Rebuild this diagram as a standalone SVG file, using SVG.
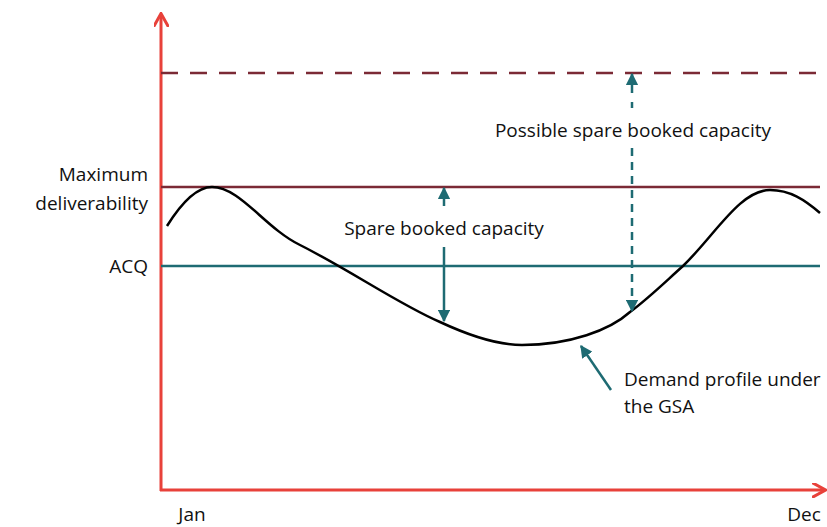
<svg xmlns="http://www.w3.org/2000/svg" width="827" height="527" viewBox="0 0 827 527">
<style>
text{font-family:"Open Sans","Liberation Sans",sans-serif;font-size:19px;fill:#111}
.axis{stroke:#e8413a;stroke-width:3;fill:none}
.teal{stroke:#1e6b73;stroke-width:2.5;fill:none}
.red{stroke:#7b2a35;stroke-width:2.5;fill:none}
</style>
<defs>
<marker id="ah" viewBox="0 0 10 10" refX="9" refY="5" markerWidth="5" markerHeight="5" orient="auto" markerUnits="strokeWidth">
<path d="M0,0 L10,5 L0,10 z" fill="#1e6b73"/>
</marker>
<marker id="axh" viewBox="0 0 10 10" refX="8" refY="5" markerWidth="5" markerHeight="5" orient="auto" markerUnits="strokeWidth">
<path d="M0,0 L9,5 L0,10" fill="none" stroke="#e8413a" stroke-width="2"/>
</marker>
</defs>
<g id="axes">
<line class="axis" x1="161" y1="491" x2="161" y2="15" marker-end="url(#axh)"/>
<line class="axis" x1="160" y1="490" x2="824" y2="490" marker-end="url(#axh)"/>
</g>
<g id="lines">
<line class="red" x1="161" y1="73" x2="820" y2="73" stroke-dasharray="17,12"/>
<line class="red" x1="161" y1="187" x2="820" y2="187"/>
<line class="teal" x1="161" y1="266" x2="820" y2="266"/>
</g>
<g id="curve">
<path d="M167,226 C182,202 197,187 212,187 C240,187 265,228 300,245 C350,270 400,305 440,322 C470,336 500,345 522,345 C570,345 610,330 630,312 C650,297 665,282 683,266 C715,235 740,190 770,190 C790,190 805,200 820,213" fill="none" stroke="#000" stroke-width="2.5"/>
</g>
<g id="connectors">
<line class="teal" x1="444" y1="206" x2="444" y2="188" marker-end="url(#ah)"/>
<line class="teal" x1="444" y1="247" x2="444" y2="321" marker-end="url(#ah)"/>
<line class="teal" x1="632" y1="93" x2="632" y2="74" marker-end="url(#ah)"/>
<line class="teal" x1="632" y1="102" x2="632" y2="108"/>
<line class="teal" x1="632" y1="148" x2="632" y2="311" stroke-dasharray="8,6" marker-end="url(#ah)"/>
<line class="teal" x1="611" y1="390" x2="581" y2="346" marker-end="url(#ah)"/>
</g>
<g id="labels">
<text x="148" y="181" text-anchor="end">Maximum</text>
<text x="148" y="210" text-anchor="end">deliverability</text>
<text x="148" y="273" text-anchor="end">ACQ</text>
<text x="192" y="521" text-anchor="middle">Jan</text>
<text x="804" y="521" text-anchor="middle">Dec</text>
<text x="444" y="235" text-anchor="middle">Spare booked capacity</text>
<text x="633" y="137" text-anchor="middle">Possible spare booked capacity</text>
<text x="624" y="386">Demand profile under</text>
<text x="624" y="413">the GSA</text>
</g>
</svg>
